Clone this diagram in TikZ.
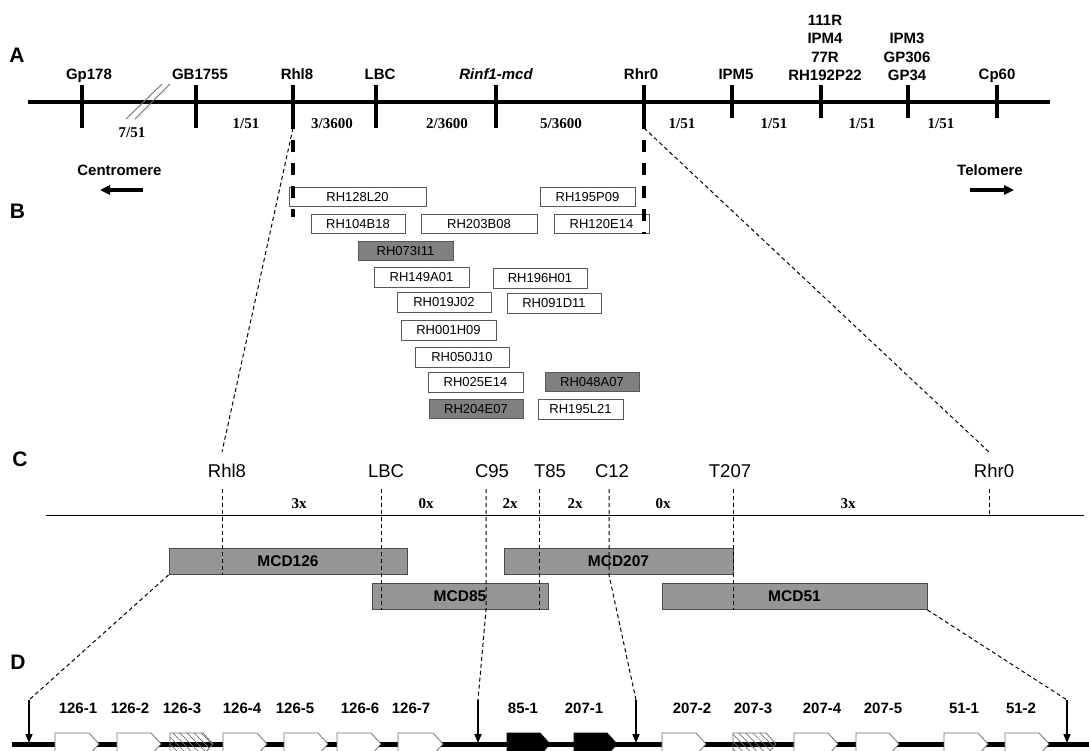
\documentclass[tikz,border=0pt]{standalone}
\usepackage{fontspec}
\setmainfont{Liberation Sans}
\newfontfamily\tnr{Liberation Serif}
\usetikzlibrary{arrows.meta,patterns.meta}
\begin{document}
\begin{tikzpicture}[x=1pt,y=-1pt,
  every node/.style={inner sep=0pt},
  mk/.style={font=\fontsize{15}{18}\selectfont\bfseries, anchor=base},
  frac/.style={font=\fontsize{15}{17}\selectfont\tnr\bfseries, anchor=base},
  panel/.style={font=\fontsize{21}{24}\selectfont\bfseries, anchor=base},
  clab/.style={font=\fontsize{18.5}{20}\selectfont, anchor=base},
  tickline/.style={line width=3.5pt},
  bac/.style={draw=black!65, line width=0.8pt, fill=white, minimum height=19.5pt, font=\fontsize{13}{14}\selectfont},
  bacg/.style={bac, fill=black!50},
  mcd/.style={draw=black!70, line width=0.8pt, fill=black!41, minimum height=26pt, font=\fontsize{15.5}{18}\selectfont\bfseries},
  xdash/.style={dash pattern=on 4pt off 3pt, line width=1pt},
  thickdash/.style={line width=3.5pt, dash pattern=on 12pt off 11pt, dash phase=11pt},
  bigarrow/.style={line width=3.5pt, -{Triangle[length=10pt,width=9pt]}},
  downarrow/.style={line width=1.5pt, -{Triangle[length=9pt,width=7pt]}},
  wg/.style={draw=black!55, fill=white, line width=0.8pt},
  hg/.style={draw=black!55, line width=0.8pt, pattern={Lines[angle=-45,distance=5pt,line width=0.7pt]}, pattern color=black!55},
  bg/.style={draw=black, fill=black, line width=0.8pt}
]
\useasboundingbox (0,0) rectangle (1089,751);
\clip (0,0) rectangle (1089,751);
\fill[white] (0,0) rectangle (1089,751);

% ---------------- Panel A ----------------
\node[panel] (pA) at (17,63) {A};
\coordinate (L0) at (28,102);
\coordinate (L1) at (1050,102);
\draw[line width=3.5pt] (L0) -- (L1);
\coordinate (gpt) at (82,85);   \coordinate (gpb) at (82,128);
\coordinate (gbt) at (196,85);  \coordinate (gbb) at (196,128);
\coordinate (rlt) at (293,85);  \coordinate (rlb) at (293,128);
\coordinate (lbct) at (376,85); \coordinate (lbcb) at (376,128);
\coordinate (rinft) at (496,85);\coordinate (rinfb) at (496,128);
\coordinate (rrt) at (644,85);  \coordinate (rrb) at (644,128);
\coordinate (ipmt) at (732,85); \coordinate (ipmb) at (732,118);
\coordinate (rht) at (821,85);  \coordinate (rhb) at (821,118);
\coordinate (gp3t) at (908,85); \coordinate (gp3b) at (908,118);
\coordinate (cpt) at (997,85);  \coordinate (cpb) at (997,118);
\foreach \n in {gp,gb,rl,lbc,rinf,rr,ipm,rh,gp3,cp}
  \draw[tickline] (\n t) -- (\n b);
% break marks
\coordinate (s1a) at (126,119); \coordinate (s1b) at (162,84);
\coordinate (s2a) at (135,119); \coordinate (s2b) at (170,84);
\draw[black!55, line width=0.9pt] (s1a) -- (s1b);
\draw[black!55, line width=0.9pt] (s2a) -- (s2b);

\node[mk] (nGp) at (89,80) {Gp178};
\node[mk] (nGB) at (200,80) {GB1755};
\node[mk] (nRhl) at (297,80) {Rhl8};
\node[mk] (nLBC) at (380,80) {LBC};
\node[mk, font=\fontsize{15}{18}\selectfont\bfseries\itshape] (nRinf) at (496,80) {Rinf1-mcd};
\node[mk] (nRhr) at (641,80) {Rhr0};
\node[mk] (nIPM5) at (736,80) {IPM5};
\node[mk] (s1) at (825,25.5) {111R};
\node[mk] (s2) at (825,44) {IPM4};
\node[mk] (s3) at (825,62.5) {77R};
\node[mk] (s4) at (825,81) {RH192P22};
\node[mk] (u1) at (907,44) {IPM3};
\node[mk] (u2) at (907,62.5) {GP306};
\node[mk] (u3) at (907,81) {GP34};
\node[mk] (nCp) at (997,80) {Cp60};

\node[frac] (f1) at (132,138) {7/51};
\node[frac] (f2) at (246,129) {1/51};
\node[frac] (f3) at (332,129) {3/3600};
\node[frac] (f4) at (447,129) {2/3600};
\node[frac] (f5) at (561,129) {5/3600};
\node[frac] (f6) at (682,129) {1/51};
\node[frac] (f7) at (774,129) {1/51};
\node[frac] (f8) at (862,129) {1/51};
\node[frac] (f9) at (941,129) {1/51};

\node[mk] (cen) at (119.5,176) {Centromere};
\coordinate (cenA) at (143,190); \coordinate (cenB) at (100,190);
\draw[bigarrow] (cenA) -- (cenB);
\node[mk] (tel) at (990,176) {Telomere};
\coordinate (telA) at (970,190); \coordinate (telB) at (1014,190);
\draw[bigarrow] (telA) -- (telB);

% ---------------- Panel B ----------------
\node[panel] (pB) at (17.5,218.5) {B};
\node[bac, minimum width=137pt] (b1) at (357.5,197) {RH128L20};
\node[bac, minimum width=95pt] (b2) at (587.5,197) {RH195P09};
\node[bac, minimum width=94pt] (b3) at (358,224) {RH104B18};
\node[bac, minimum width=116pt] (b4) at (479,224) {RH203B08};
\node[bac, minimum width=95pt] (b5) at (601.5,224) {RH120E14};
\node[bacg, minimum width=95pt] (b6) at (405.5,251) {RH073I11};
\node[bac, minimum width=95pt] (b7) at (421.5,277.5) {RH149A01};
\node[bac, minimum width=94pt] (b8) at (540,278.5) {RH196H01};
\node[bac, minimum width=94pt] (b9) at (444,302.5) {RH019J02};
\node[bac, minimum width=94pt] (b10) at (554,303.5) {RH091D11};
\node[bac, minimum width=95pt] (b11) at (448.5,330.5) {RH001H09};
\node[bac, minimum width=94pt] (b12) at (462,357.5) {RH050J10};
\node[bac, minimum width=95pt] (b13) at (475.5,382.5) {RH025E14};
\node[bacg, minimum width=94pt] (b14) at (592,382) {RH048A07};
\node[bacg, minimum width=94pt] (b15) at (476,409) {RH204E07};
\node[bac, minimum width=85pt] (b16) at (580.5,409.5) {RH195L21};

\coordinate (rlE) at (293,217);
\coordinate (rrE) at (644,234);
\draw[thickdash] (rlb) -- (rlE);
\draw[thickdash] (rrb) -- (rrE);

% ---------------- Panel C ----------------
\node[panel] (pC) at (20,466) {C};
\coordinate (C0) at (46,515); \coordinate (C1) at (1084,515);
\draw[line width=0.9pt] (C0) -- (C1);

\node[clab] (cRhl) at (227,477.5) {Rhl8};
\node[clab] (cLBC) at (386,477.5) {LBC};
\node[clab] (cC95) at (492,477.5) {C95};
\node[clab] (cT85) at (550,477.5) {T85};
\node[clab] (cC12) at (612,477.5) {C12};
\node[clab] (cT207) at (730,477.5) {T207};
\node[clab] (cRhr) at (994,477.5) {Rhr0};

\node[frac] (x1) at (299,508) {3x};
\node[frac] (x2) at (426,508) {0x};
\node[frac] (x3) at (510,508) {2x};
\node[frac] (x4) at (575,508) {2x};
\node[frac] (x5) at (663,508) {0x};
\node[frac] (x6) at (848,508) {3x};

\node[mcd, minimum width=238pt] (m126) at (288,561.5) {MCD126};
\node[mcd, minimum width=176pt] (m85) at (460,596.5) {MCD85};
\node[mcd, minimum width=229pt] (m207) at (618.5,561.5) {MCD207};
\node[mcd, minimum width=265pt] (m51) at (794.5,596.5) {MCD51};

% expansion lines A -> C
\coordinate (eL) at (222,452);
\coordinate (eR) at (989,452);
\draw[xdash] (rlb) -- (eL);
\draw[xdash] (rrb) -- (eR);

% vertical dashed guides
\coordinate (g1a) at (222,489); \coordinate (g1b) at (222,575);
\coordinate (g2a) at (381,489); \coordinate (g2b) at (381,610);
\coordinate (g3a) at (486,489); \coordinate (g3b) at (486,610);
\coordinate (g4a) at (539,489); \coordinate (g4b) at (539,610);
\coordinate (g5a) at (609,489); \coordinate (g5b) at (609,575);
\coordinate (g6a) at (733,489); \coordinate (g6b) at (733,610);
\coordinate (g7a) at (989,489); \coordinate (g7b) at (989,515);
\draw[xdash] (g1a) -- (g1b);
\draw[xdash] (g2a) -- (g2b);
\draw[xdash] (g4a) -- (g4b);
\draw[xdash] (g6a) -- (g6b);
\draw[xdash] (g7a) -- (g7b);

% ---------------- Panel D ----------------
\node[panel] (pD) at (18,669.5) {D};
\coordinate (D0) at (12,744); \coordinate (D1) at (1095,744);
\draw[line width=5pt] (D0) -- (D1);

\foreach \a/\b/\s in {55/99/wg, 117/161/wg, 170/213/hg, 223/267/wg, 284/328/wg, 337/381/wg, 398/443/wg, 507/550/bg, 574/617/bg, 662/706/wg, 733/776/hg, 794/838/wg, 856/899/wg, 944/988/wg, 1005/1049/wg}
  \draw[\s] (\a,733) -- ({\b-10},733) -- (\b,744) -- ({\b-10},755) -- (\a,755) -- cycle;

\foreach \n/\x in {126-1/78, 126-2/130, 126-3/182, 126-4/242, 126-5/295, 126-6/360, 126-7/411, 85-1/523, 207-1/584, 207-2/692, 207-3/753, 207-4/822, 207-5/883, 51-1/964, 51-2/1021}
  \node[mk] (d\n) at (\x,713) {\n};

\coordinate (a1t) at (29,700); \coordinate (a1b) at (29,743);
\coordinate (a2t) at (478,700); \coordinate (a2b) at (478,743);
\coordinate (a3t) at (636,700); \coordinate (a3b) at (636,743);
\coordinate (a4t) at (1067,700); \coordinate (a4b) at (1067,743);
\draw[downarrow] (a1t) -- (a1b);
\draw[downarrow] (a2t) -- (a2b);
\draw[downarrow] (a3t) -- (a3b);
\draw[downarrow] (a4t) -- (a4b);

% expansion lines C -> D
\draw[xdash] (m126.south west) -- (a1t);
\draw[xdash] (m51.south east) -- (a4t);
\draw[xdash] (g3a) -- (g3b) -- (a2t);
\draw[xdash] (g5a) -- (g5b) -- (a3t);
\end{tikzpicture}
\end{document}
